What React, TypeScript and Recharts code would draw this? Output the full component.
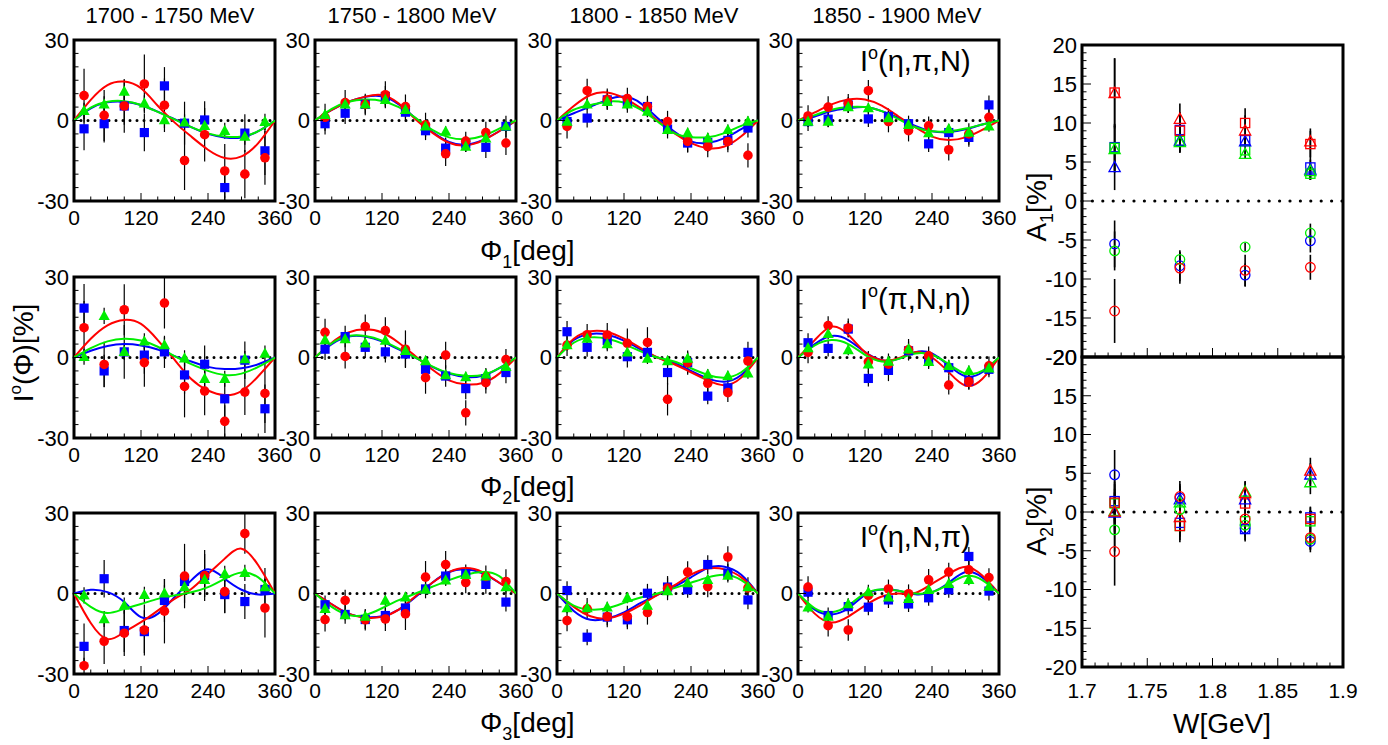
import React from 'react';
import { ComposedChart, Scatter, Line, XAxis, YAxis, ReferenceLine, ReferenceArea, ErrorBar } from 'recharts';

const FONT = '"Liberation Sans", Arial, Helvetica, sans-serif';
const RED = '#ff0000';
const BLUE = '#0000ff';
const GREEN = '#00ee00';

// ---------- shared axis values ----------
const phiBins = [18, 54, 90, 126, 162, 198, 234, 270, 306, 342];
const fitPhi = [0, 30, 60, 90, 120, 150, 180, 210, 240, 270, 300, 330, 360];
const phiTicks = [0, 30, 60, 90, 120, 150, 180, 210, 240, 270, 300, 330, 360];
const phiTickLabels = [0, 120, 240, 360];
const intTicks = [-30, -25, -20, -15, -10, -5, 0, 5, 10, 15, 20, 25, 30];
const intTickLabels = [-30, 0, 30];
const energyTitles = ['1700 - 1750 MeV', '1750 - 1800 MeV', '1800 - 1850 MeV', '1850 - 1900 MeV'];
const wBins = [1.725, 1.775, 1.825, 1.875];
const wTicks = [1.7, 1.71, 1.72, 1.73, 1.74, 1.75, 1.76, 1.77, 1.78, 1.79, 1.8, 1.81, 1.82, 1.83, 1.84, 1.85, 1.86, 1.87, 1.88, 1.89, 1.9];
const wTickLabels = [1.7, 1.75, 1.8, 1.85, 1.9];
const aTickLabels = [-20, -15, -10, -5, 0, 5, 10, 15, 20];
const aTicks = Array.from({ length: 41 }, (_, i) => i - 20);

// ---------- row 1 : Phi1, I(eta,pi,N) ----------
const p1Blue = [-3.1, -1.2, 5.4, -4.5, 12.9, -1.0, 0.2, -25.0, -4.7, -11.3];
const p1BlueErr = [8, 7, 7, 7, 7, 8, 7, 5, 7, 9];
const p1Red = [9.3, 1.9, 5.4, 13.6, 5.7, -14.9, -5.3, -18.8, -20.0, -13.9];
const p1RedErr = [10, 9.5, 10, 11, 10, 11, 10, 10, 9, 10];
const p1Green = [3.6, 6.0, 10.8, 6.4, 0.2, -0.7, -2.0, -3.8, -6.0, -0.5];
const p1GreenErr = [3, 3, 4.5, 3, 3, 3, 3, 3, 3, 3];
const p1RedFit = [0, 7.7, 13.2, 14.5, 12, 5.5, -0.7, -6, -10.9, -14, -13.4, -8.4, 0];
const p1BlueFit = [0, 4.5, 6.8, 7, 5.8, 3.3, 0.5, -2.5, -5, -6.3, -6.3, -4, 0];
const p1GreenFit = [0, 4.8, 7, 7.2, 5.8, 3.2, 0.4, -2.5, -4.8, -6, -6, -4, 0];

const p2Blue = [-1.2, 2.7, 6.0, 8.9, 3.1, -3.8, -10.3, -8.7, -10.0, -2.2];
const p2BlueErr = [4, 4, 3.5, 4, 3.5, 3.5, 4, 3, 4, 4];
const p2Red = [1.2, 6.7, 6.0, 9.6, 5.2, -1.6, -12.4, -7.7, -4.5, -8.4];
const p2RedErr = [5, 4.7, 4, 5, 4.5, 4.5, 4.6, 3.5, 4, 4.5];
const p2Green = [2.1, 6.0, 6.0, 7.7, 4.0, -2.2, -4.1, -9.7, -6.6, -2.2];
const p2GreenErr = [2, 2, 2, 2, 2, 2, 2, 2, 2, 2];
const p2RedFit = [0, 4, 7, 8.9, 9.5, 6.3, 0.5, -4.5, -8.3, -9.3, -7.5, -4, 0];
const p2BlueFit = [0, 4, 7, 8.8, 9, 6, 0.8, -4.2, -8, -9, -7.3, -4, 0];
const p2GreenFit = [0, 4.3, 7, 7.8, 7.3, 5, 1, -3.5, -6.3, -7, -5.8, -3, 0];

const p3Blue = [-0.4, 0.9, 7.7, 6.4, 5.2, -3.2, -8.4, -8.2, -7.4, -2.8];
const p3BlueErr = [3.5, 3.5, 3.5, 3.5, 3.5, 3.5, 3.5, 3.5, 3.5, 3.5];
const p3Red = [-2.2, 11.1, 7.9, 8.2, 5.2, -0.4, -7.8, -9.7, -7.8, -13.0];
const p3RedErr = [4.5, 4.5, 4, 4, 4, 4, 4, 4, 4, 4.5];
const p3Green = [-0.4, 6.0, 7.0, 6.0, 3.3, -3.5, -4.7, -6.6, -3.5, -0.4];
const p3GreenErr = [2, 2, 2, 2, 2, 2, 2, 2, 2, 2];
const p3RedFit = [0, 5.4, 9.5, 10.4, 8.3, 4.6, 0, -4.7, -8.4, -10.3, -9.7, -5.9, 0];
const p3BlueFit = [0, 2.7, 5.2, 7.7, 8.9, 6.4, 0.9, -4.1, -7.8, -8.4, -6.6, -3.2, 0];
const p3GreenFit = [0, 4, 5.8, 7, 6.7, 4, -0.4, -4.7, -6.2, -6.2, -4.7, -2, 0];

const p4Blue = [-0.4, 0.5, 5.8, 0.6, 1.5, -1.2, -8.7, -4.5, -6.3, 5.8];
const p4BlueErr = [3.5, 3, 3, 3, 3, 3, 3, 3, 3.5, 3.5];
const p4Red = [1.7, 5.0, 6.4, 11.1, -0.4, -3.8, -2.0, -10.9, -5.0, 1.2];
const p4RedErr = [4, 4, 3.5, 4, 4, 4, 3.5, 4, 4, 3.5];
const p4Green = [-0.4, -0.4, 5.0, 4.6, 0.9, -1.6, -4.7, -3.2, -4.5, -2.2];
const p4GreenErr = [2, 2, 2, 2, 2, 2, 2, 2, 2, 2];
const p4RedFit = [0, 3, 6, 7.8, 7.8, 5.5, 1.5, -2.5, -6, -7.3, -6.3, -3.5, 0];
const p4BlueFit = [0, 1.5, 3.5, 4.5, 5, 3.5, 1, -2, -4, -4.3, -3.3, -1.5, 0];
const p4GreenFit = [0, 2, 4, 5, 5, 3.5, 0.5, -2.5, -4, -4, -3, -1.5, 0];

// ---------- row 2 : Phi2, I(pi,N,eta) ----------
const p5Blue = [18.4, -5.0, 2.1, 0.9, 2.1, -6.5, -2.5, -15.4, -1.0, -19.1];
const p5BlueErr = [9, 6, 10, 7, 6, 7, 7, 7, 7, 9];
const p5Red = [11.1, -2.6, 17.8, -1.9, 20.3, -10.8, -12.5, -23.8, -12.9, -13.4];
const p5RedErr = [10, 8.5, 9.5, 9, 9.5, 11.5, 9, 6, 8.5, 11];
const p5Green = [0.3, 15.5, 2.1, 6.0, 4.6, -0.3, -7.9, -7.9, -0.6, 1.5];
const p5GreenErr = [3, 3, 3, 3, 3, 3, 3, 3, 3, 3];
const p5RedFit = [0, 7, 12, 14, 12.5, 6.5, -0.8, -8, -12.3, -14, -12.5, -7, 0];
const p5BlueFit = [0, 2.5, 4.3, 5, 4.5, 3, 0.5, -1.5, -3.5, -4.3, -4, -2.5, 0];
const p5GreenFit = [0, 3.5, 6, 7, 6.3, 4, 0.5, -2.5, -5, -6.5, -6, -3.5, 0];

const p6Blue = [3.1, 7.8, 3.8, 2.1, 1.3, -4.4, -6.9, -11.6, -7.9, -5.6];
const p6BlueErr = [4, 4, 4, 4, 5, 4, 4, 4, 4, 4];
const p6Red = [9.4, 0.4, 11.5, 10.0, 3.1, -7.5, 0.9, -20.6, -9.4, -0.8];
const p6RedErr = [5, 4.5, 4.5, 5, 7, 6, 5, 4.7, 4, 4];
const p6Green = [6.5, 6.9, 5.3, 6.3, 2.5, -1.3, -6.5, -7.3, -6.3, -3.5];
const p6GreenErr = [2, 2, 2, 2, 2, 2, 2, 2, 2, 2];
const p6RedFit = [0, 5.5, 9.3, 10.5, 9.3, 5.5, 0.5, -4.5, -8.5, -10, -9.5, -6, 0];
const p6BlueFit = [0, 5, 7.8, 7.8, 6, 3, 0, -3.5, -6, -7.3, -6.8, -4, 0];
const p6GreenFit = [0, 5.3, 8, 8, 6.3, 3.3, 0, -3.3, -5.8, -6.8, -6.5, -4, 0];

const p7Blue = [9.6, 3.8, 6.3, 0.3, 1.9, -5.6, -1.9, -14.4, -11.3, 1.9];
const p7BlueErr = [4, 3.5, 4, 4, 4, 4.5, 4, 3, 3, 4];
const p7Red = [4.6, 8.5, 8.4, 5.3, 5.6, -15.6, -1.9, -9.6, -13.1, -1.3];
const p7RedErr = [4, 4, 4.5, 5.5, 5.7, 6, 4.5, 4, 3.5, 4];
const p7Green = [4.6, 7.1, 5.0, 1.9, -0.4, -1.3, -0.4, -6.3, -6.9, -5.9];
const p7GreenErr = [2, 2, 2, 2, 2, 2, 2, 2, 2, 2];
const p7RedFit = [0, 7, 9.8, 9.5, 7, 3.5, 0, -2.5, -5.5, -8.5, -10.3, -7.5, 0];
const p7BlueFit = [0, 6.5, 8.8, 8.5, 6.3, 3, 0, -2, -5, -7.8, -9, -6.5, 0];
const p7GreenFit = [0, 5.5, 7.5, 7, 5, 2.3, 0, -1.5, -4, -6.5, -7.5, -5.5, 0];

const p8Blue = [5.5, 3.4, 10.6, -7.8, -4.8, 2.5, -1.3, -3.8, -8.8, -4.4];
const p8BlueErr = [3.5, 3, 3, 3, 4, 3.5, 3, 3, 3, 3];
const p8Red = [1.9, 11.9, 11.0, -1.6, -2.5, 2.9, 0.6, -10.3, -9.0, -3.1];
const p8RedErr = [4, 3.5, 3.5, 4, 4, 4, 3.5, 3.5, 3, 3.5];
const p8Green = [3.5, 8.8, 2.8, -2.5, -1.5, 3.1, -1.6, -3.1, -5.0, -4.0];
const p8GreenErr = [2, 2, 2, 2, 2, 2, 2, 2, 2, 2];
const p8RedFit = [0, 6.5, 11.5, 8.5, 2, -1, -0.3, 2, 0, -5.5, -10.5, -8, 0];
const p8BlueFit = [0, 5, 8, 6.5, 2, -1, -0.5, 2, 1.5, -3, -7, -5.5, 0];
const p8GreenFit = [0, 4.5, 6.5, 5, 1, -1.5, -0.5, 1.5, 1, -2.5, -6, -5, 0];

// ---------- row 3 : Phi3, I(eta,N,pi) ----------
const p9Blue = [-19.7, 5.5, -13.8, -14.2, -2.6, 4.5, 6.7, -0.4, -3.0, 1.5];
const p9BlueErr = [8.5, 7, 8, 8, 8, 8, 8, 7, 6.5, 8];
const p9Red = [-26.9, -17.8, -14.8, -13.6, -6.6, 6.5, 6.7, 0.7, 22.3, -5.4];
const p9RedErr = [3, 8.5, 8.5, 9.5, 12, 12, 9.5, 8, 7.5, 11];
const p9Green = [-0.7, -9.5, -4.5, -0.5, 0.1, 2.4, 5.1, 7.3, 7.7, 2.4];
const p9GreenErr = [3, 3, 3, 3, 3, 3, 3, 3, 3, 3];
const p9RedFit = [0, -11, -17, -14.4, -10.7, -6.4, -2, 1.7, 7.3, 13, 16.7, 10.5, 0];
const p9BlueFit = [0, 1.4, 0.5, -3.2, -8.8, -7.6, -1.4, 4.9, 9, 5.5, 1.4, -0.4, 0];
const p9GreenFit = [0, -5, -7.3, -5.7, -3.9, -2, -0.7, 0.5, 2.4, 5.5, 7.8, 6, 0];

const p10Blue = [-4.2, -7.8, -9.7, -8.2, -5.4, 1.7, 6.5, 7.3, 3.4, -3.2];
const p10BlueErr = [3.5, 3.5, 3.5, 3.5, 3.5, 3.5, 3.5, 3.5, 3.5, 3.5];
const p10Red = [-9.7, -2.6, -9.8, -9.5, -7.6, 6.1, 10.8, 4.1, 6.4, 4.5];
const p10RedErr = [4.5, 4, 4, 4.5, 6, 6, 5, 4, 4, 4.5];
const p10Green = [-5.7, -8.0, -8.6, -2.6, -1.4, 1.5, 4.9, 7.0, 6.4, 2.4];
const p10GreenErr = [2, 2, 2, 2, 2, 2, 2, 2, 2, 2];
const p10RedFit = [0, -4, -7.5, -9, -8.7, -6, -1, 4, 8, 9.5, 8, 4, 0];
const p10BlueFit = [0, -4, -7.5, -8.8, -8.5, -6, -1.3, 4, 8, 9, 7.5, 4, 0];
const p10GreenFit = [0, -5, -8, -8, -5.5, -2.5, 0, 2.5, 5, 7, 8, 6.5, 0];

const p11Blue = [1.1, -16.3, -8.8, -9.8, 0.1, 2.4, 1.4, 10.8, 7.6, -2.4];
const p11BlueErr = [3.5, 3, 3, 3.5, 3.5, 3.5, 3, 3.5, 3.5, 3.5];
const p11Red = [-10.1, -5.7, -8.6, -8.6, -7.1, 2.0, 8.0, 2.6, 13.6, 2.1];
const p11RedErr = [4, 4, 4, 4, 4.5, 4.5, 4, 4, 4, 4];
const p11Green = [-5.4, -5.4, -5.1, -1.6, -4.5, 0.9, 3.9, 5.1, 6.7, 2.4];
const p11GreenErr = [2, 2, 2, 2, 2, 2, 2, 2, 2, 2];
const p11RedFit = [0, -5, -8.5, -9.3, -7.5, -4.3, -0.5, 3, 7, 9.3, 9, 6, 0];
const p11BlueFit = [0, -6.5, -9.8, -9.3, -7, -3.5, -0.5, 2.5, 6, 9.5, 10, 7, 0];
const p11GreenFit = [0, -4.5, -6, -5.5, -3.5, -1.5, 0, 2, 4, 6, 7, 5, 0];

const p12Blue = [0.5, -8.2, -4.9, -5.1, -2.4, -3.9, -1.6, 1.4, 13.8, 0.9];
const p12BlueErr = [3.5, 3, 3, 3, 3, 3, 3, 3, 3.5, 3.5];
const p12Red = [2.4, -12.0, -13.6, -0.7, 1.7, -0.1, 5.1, 8.0, 8.8, 5.9];
const p12RedErr = [4, 4, 4, 4, 3.5, 3.5, 4, 3.5, 3.5, 3.5];
const p12Green = [-5.1, -8.6, -3.9, 0.5, -1.4, -2.0, 1.4, 3.6, 5.1, 2.6];
const p12GreenErr = [2, 2, 2, 2, 2, 2, 2, 2, 2, 2];
const p12RedFit = [0, -7.5, -10.8, -8.6, -4.5, -1.1, 0, 0.2, 3.6, 7.3, 10, 6.7, 0];
const p12BlueFit = [0, -6, -7.8, -5.5, -0.5, 1.5, 1, -0.3, 0.5, 4, 8, 6, 0];
const p12GreenFit = [0, -5.5, -7, -4.5, 0, 1.5, 1, 0, 0.5, 3.5, 6.5, 5, 0];

// ---------- right panels : A1, A2 vs W ----------
const a1RedSq = [13.9, 9.0, 10.0, 7.3];
const a1RedSqErr = [4.4, 2.0, 1.9, 1.7];
const a1BlueSq = [6.9, 9.1, 7.8, 4.3];
const a1BlueSqErr = [3.0, 2.3, 0.8, 1.6];
const a1GreenSq = [6.8, 7.7, 6.5, 3.5];
const a1GreenSqErr = [3.0, 1.5, 0.5, 0.8];
const a1RedTri = [13.8, 10.5, 9.0, 7.6];
const a1RedTriErr = [4.5, 2.0, 2.0, 1.7];
const a1BlueTri = [4.3, 7.7, 7.6, 4.0];
const a1BlueTriErr = [2.9, 1.5, 0.6, 1.3];
const a1GreenTri = [6.6, 7.5, 6.0, 3.8];
const a1GreenTriErr = [3.0, 1.2, 0.5, 1.0];
const a1RedCirc = [-14.1, -8.6, -8.9, -8.5];
const a1RedCircErr = [4.1, 2.0, 2.0, 1.6];
const a1BlueCirc = [-5.5, -8.3, -9.5, -5.1];
const a1BlueCircErr = [3.0, 2.0, 1.5, 1.5];
const a1GreenCirc = [-6.4, -7.5, -5.9, -4.1];
const a1GreenCircErr = [2.5, 1.0, 0.5, 1.2];

const a2RedSq = [1.2, -1.8, 1.1, -0.9];
const a2RedSqErr = [3.0, 2.1, 1.5, 1.5];
const a2BlueSq = [1.4, -1.4, -2.2, -0.7];
const a2BlueSqErr = [2.5, 1.8, 1.6, 1.4];
const a2GreenSq = [1.1, -1.8, -1.2, -1.2];
const a2GreenSqErr = [2.5, 1.8, 1.5, 1.4];
const a2RedTri = [0.0, -0.7, 2.4, 5.3];
const a2RedTriErr = [3.0, 2.0, 1.5, 1.7];
const a2BlueTri = [-0.1, 1.6, 1.6, 4.8];
const a2BlueTriErr = [2.5, 1.8, 1.4, 1.5];
const a2GreenTri = [0.1, 1.2, 2.6, 3.8];
const a2GreenTriErr = [2.5, 1.8, 1.4, 1.5];
const a2RedCirc = [-5.1, 2.0, -0.9, -3.3];
const a2RedCircErr = [4.4, 2.0, 1.5, 1.5];
const a2BlueCirc = [4.8, 1.8, -2.1, -3.8];
const a2BlueCircErr = [3.2, 1.8, 1.5, 1.4];
const a2GreenCirc = [-2.3, 0.3, -1.7, -3.5];
const a2GreenCircErr = [2.8, 1.5, 1.5, 1.4];

// ---------- helpers ----------
const pts = (xs: number[], ys: number[], es: number[]) => xs.map((x, i) => ({ x, y: ys[i], e: es[i] }));
const fit = (ys: number[]) => fitPhi.map((x, i) => ({ x, y: ys[i] }));
const near = (list: number[], v: number) => list.some((m) => Math.abs(m - v) < 1e-6);

const makeXTick = (majors: number[], showLabels: boolean, dy: number, fmt: (v: number) => string, majLen: number, minLen: number, fs: number) =>
  (props: any) => {
    const { x, y, payload } = props;
    const v = payload.value;
    const isMajor = near(majors, v);
    return (
      <g>
        <line x1={x} x2={x} y1={y} y2={y - (isMajor ? majLen : minLen)} stroke="#000" strokeWidth={1} />
        {isMajor && showLabels && (
          <text x={x} y={y + dy} textAnchor="middle" fontSize={fs} fontFamily={FONT} fill="#000">{fmt(v)}</text>
        )}
      </g>
    );
  };

const makeYTick = (majors: number[], majLen: number, minLen: number, fs: number) =>
  (props: any) => {
    const { x, y, payload } = props;
    const v = payload.value;
    const isMajor = near(majors, v);
    return (
      <g>
        <line x1={x} x2={x + (isMajor ? majLen : minLen)} y1={y} y2={y} stroke="#000" strokeWidth={1} />
        {isMajor && (
          <text x={x - 5} y={y} dy="0.36em" textAnchor="end" fontSize={fs} fontFamily={FONT} fill="#000">{v}</text>
        )}
      </g>
    );
  };

const phiXTick = makeXTick(phiTickLabels, true, 24, (v) => String(v), 8, 4.5, 21);
const intYTick = makeYTick(intTickLabels, 8, 4.5, 22);
const wXTickLabeled = makeXTick(wTickLabels, true, 31, (v) => String(Math.round(v * 100) / 100), 9, 4.5, 21);
const wXTickPlain = makeXTick(wTickLabels, false, 31, (v) => String(v), 9, 4.5, 21);
const aYTick = makeYTick(aTickLabels, 9, 4.5, 22);

// filled markers
const blueSquare = (p: any) => <rect x={p.cx - 4.6} y={p.cy - 4.6} width={9.2} height={9.2} fill={BLUE} />;
const redCircle = (p: any) => <circle cx={p.cx} cy={p.cy} r={4.8} fill={RED} />;
const greenTriangle = (p: any) => (
  <polygon points={`${p.cx},${p.cy - 6} ${p.cx - 5.6},${p.cy + 4.2} ${p.cx + 5.6},${p.cy + 4.2}`} fill={GREEN} />
);
// open markers
const openSquare = (c: string) => (p: any) => (
  <rect x={p.cx - 4.6} y={p.cy - 4.6} width={9.2} height={9.2} fill="none" stroke={c} strokeWidth={1.3} />
);
const openCircle = (c: string) => (p: any) => <circle cx={p.cx} cy={p.cy} r={4.8} fill="none" stroke={c} strokeWidth={1.3} />;
const openTriangle = (c: string) => (p: any) => (
  <polygon points={`${p.cx},${p.cy - 6} ${p.cx - 5.6},${p.cy + 4.2} ${p.cx + 5.6},${p.cy + 4.2}`} fill="none" stroke={c} strokeWidth={1.3} />
);

// ---------- layout ----------
const colLeft = [74, 315, 557, 798];
const rowTop = [40, 277, 513];
const PW = 201;
const PH = 161;
const ML = 52;
const MR = 26;
const MT = 12;
const MB = 34;

type PanelDef = {
  blue: number[]; blueErr: number[]; red: number[]; redErr: number[]; green: number[]; greenErr: number[];
  redFit: number[]; blueFit: number[]; greenFit: number[];
};

const panels: PanelDef[] = [
  { blue: p1Blue, blueErr: p1BlueErr, red: p1Red, redErr: p1RedErr, green: p1Green, greenErr: p1GreenErr, redFit: p1RedFit, blueFit: p1BlueFit, greenFit: p1GreenFit },
  { blue: p2Blue, blueErr: p2BlueErr, red: p2Red, redErr: p2RedErr, green: p2Green, greenErr: p2GreenErr, redFit: p2RedFit, blueFit: p2BlueFit, greenFit: p2GreenFit },
  { blue: p3Blue, blueErr: p3BlueErr, red: p3Red, redErr: p3RedErr, green: p3Green, greenErr: p3GreenErr, redFit: p3RedFit, blueFit: p3BlueFit, greenFit: p3GreenFit },
  { blue: p4Blue, blueErr: p4BlueErr, red: p4Red, redErr: p4RedErr, green: p4Green, greenErr: p4GreenErr, redFit: p4RedFit, blueFit: p4BlueFit, greenFit: p4GreenFit },
  { blue: p5Blue, blueErr: p5BlueErr, red: p5Red, redErr: p5RedErr, green: p5Green, greenErr: p5GreenErr, redFit: p5RedFit, blueFit: p5BlueFit, greenFit: p5GreenFit },
  { blue: p6Blue, blueErr: p6BlueErr, red: p6Red, redErr: p6RedErr, green: p6Green, greenErr: p6GreenErr, redFit: p6RedFit, blueFit: p6BlueFit, greenFit: p6GreenFit },
  { blue: p7Blue, blueErr: p7BlueErr, red: p7Red, redErr: p7RedErr, green: p7Green, greenErr: p7GreenErr, redFit: p7RedFit, blueFit: p7BlueFit, greenFit: p7GreenFit },
  { blue: p8Blue, blueErr: p8BlueErr, red: p8Red, redErr: p8RedErr, green: p8Green, greenErr: p8GreenErr, redFit: p8RedFit, blueFit: p8BlueFit, greenFit: p8GreenFit },
  { blue: p9Blue, blueErr: p9BlueErr, red: p9Red, redErr: p9RedErr, green: p9Green, greenErr: p9GreenErr, redFit: p9RedFit, blueFit: p9BlueFit, greenFit: p9GreenFit },
  { blue: p10Blue, blueErr: p10BlueErr, red: p10Red, redErr: p10RedErr, green: p10Green, greenErr: p10GreenErr, redFit: p10RedFit, blueFit: p10BlueFit, greenFit: p10GreenFit },
  { blue: p11Blue, blueErr: p11BlueErr, red: p11Red, redErr: p11RedErr, green: p11Green, greenErr: p11GreenErr, redFit: p11RedFit, blueFit: p11BlueFit, greenFit: p11GreenFit },
  { blue: p12Blue, blueErr: p12BlueErr, red: p12Red, redErr: p12RedErr, green: p12Green, greenErr: p12GreenErr, redFit: p12RedFit, blueFit: p12BlueFit, greenFit: p12GreenFit },
];

const errBar = (sw: number) => (
  <ErrorBar dataKey="e" direction="y" width={0} stroke="#000" strokeWidth={sw} isAnimationActive={false} />
);

function SmallPanel({ def, left, top }: { def: PanelDef; left: number; top: number }) {
  return (
    <div style={{ position: 'absolute', left: left - ML, top: top - MT }}>
      <ComposedChart width={PW + ML + MR} height={PH + MT + MB} margin={{ top: MT, right: MR, bottom: MB - 1, left: ML - 1 }}>
        <XAxis type="number" dataKey="x" domain={[0, 360]} ticks={phiTicks} interval={0} tickSize={0} tickMargin={0}
          axisLine={false} tickLine={false} height={1} tick={phiXTick} allowDataOverflow />
        <YAxis type="number" dataKey="y" domain={[-30, 30]} ticks={intTicks} interval={0} tickSize={0} tickMargin={0}
          axisLine={false} tickLine={false} width={1} tick={intYTick} allowDataOverflow />
        <ReferenceLine y={0} stroke="#000" strokeWidth={3} strokeDasharray="0 7" strokeLinecap="round" />
        <Scatter data={pts(phiBins, def.blue, def.blueErr)} shape={blueSquare} isAnimationActive={false}>{errBar(1.2)}</Scatter>
        <Scatter data={pts(phiBins, def.red, def.redErr)} shape={redCircle} isAnimationActive={false}>{errBar(1.2)}</Scatter>
        <Scatter data={pts(phiBins, def.green, def.greenErr)} shape={greenTriangle} isAnimationActive={false}>{errBar(1.2)}</Scatter>
        <Line data={fit(def.blueFit)} dataKey="y" type="natural" stroke={BLUE} strokeWidth={2} dot={false} isAnimationActive={false} />
        <Line data={fit(def.redFit)} dataKey="y" type="natural" stroke={RED} strokeWidth={2} dot={false} isAnimationActive={false} />
        <Line data={fit(def.greenFit)} dataKey="y" type="natural" stroke={GREEN} strokeWidth={2} dot={false} isAnimationActive={false} />
        <ReferenceArea x1={0} x2={360} y1={-30} y2={30} fill="none" fillOpacity={0} stroke="#000" strokeWidth={3} />
      </ComposedChart>
    </div>
  );
}

type ASeries = { kind: 'sq' | 'tri' | 'circ'; color: string; vals: number[]; errs: number[] };

const a1Series: ASeries[] = [
  { kind: 'sq', color: BLUE, vals: a1BlueSq, errs: a1BlueSqErr },
  { kind: 'sq', color: GREEN, vals: a1GreenSq, errs: a1GreenSqErr },
  { kind: 'sq', color: RED, vals: a1RedSq, errs: a1RedSqErr },
  { kind: 'tri', color: BLUE, vals: a1BlueTri, errs: a1BlueTriErr },
  { kind: 'tri', color: GREEN, vals: a1GreenTri, errs: a1GreenTriErr },
  { kind: 'tri', color: RED, vals: a1RedTri, errs: a1RedTriErr },
  { kind: 'circ', color: BLUE, vals: a1BlueCirc, errs: a1BlueCircErr },
  { kind: 'circ', color: GREEN, vals: a1GreenCirc, errs: a1GreenCircErr },
  { kind: 'circ', color: RED, vals: a1RedCirc, errs: a1RedCircErr },
];
const a2Series: ASeries[] = [
  { kind: 'sq', color: BLUE, vals: a2BlueSq, errs: a2BlueSqErr },
  { kind: 'sq', color: GREEN, vals: a2GreenSq, errs: a2GreenSqErr },
  { kind: 'sq', color: RED, vals: a2RedSq, errs: a2RedSqErr },
  { kind: 'tri', color: BLUE, vals: a2BlueTri, errs: a2BlueTriErr },
  { kind: 'tri', color: GREEN, vals: a2GreenTri, errs: a2GreenTriErr },
  { kind: 'tri', color: RED, vals: a2RedTri, errs: a2RedTriErr },
  { kind: 'circ', color: BLUE, vals: a2BlueCirc, errs: a2BlueCircErr },
  { kind: 'circ', color: GREEN, vals: a2GreenCirc, errs: a2GreenCircErr },
  { kind: 'circ', color: RED, vals: a2RedCirc, errs: a2RedCircErr },
];

const AL = 1082;
const AW = 261;
const AML = 60;
const AMR = 20;

function APanel({ series, top, height, labeled }: { series: ASeries[]; top: number; height: number; labeled: boolean }) {
  const MTa = 14;
  const MBa = 40;
  return (
    <div style={{ position: 'absolute', left: AL - AML, top: top - MTa }}>
      <ComposedChart width={AW + AML + AMR} height={height + MTa + MBa} margin={{ top: MTa, right: AMR, bottom: MBa - 1, left: AML - 1 }}>
        <XAxis type="number" dataKey="x" domain={[1.7, 1.9]} ticks={wTicks} interval={0} tickSize={0} tickMargin={0}
          axisLine={false} tickLine={false} height={1} tick={labeled ? wXTickLabeled : wXTickPlain} allowDataOverflow />
        <YAxis type="number" dataKey="y" domain={[-20, 20]} ticks={aTicks} interval={0} tickSize={0} tickMargin={0}
          axisLine={false} tickLine={false} width={1} tick={aYTick} allowDataOverflow />
        <ReferenceLine y={0} stroke="#000" strokeWidth={3.2} strokeDasharray="0 10.4" strokeLinecap="round" />
        {series.map((s, i) => (
          <Scatter key={i} data={pts(wBins, s.vals, s.errs)} isAnimationActive={false}
            shape={s.kind === 'sq' ? openSquare(s.color) : s.kind === 'tri' ? openTriangle(s.color) : openCircle(s.color)}>
            {errBar(1.6)}
          </Scatter>
        ))}
        <ReferenceArea x1={1.7} x2={1.9} y1={-20} y2={20} fill="none" fillOpacity={0} stroke="#000" strokeWidth={3} />
      </ComposedChart>
    </div>
  );
}

const rowLabels = ['(η,π,N)', '(π,N,η)', '(η,N,π)'];
const rowLabelBase = [71, 309, 547];
const phiLabelBase = [260, 496, 732];
const phiSub = ['1', '2', '3'];
const titleCenters = [170, 412, 654, 897];

export default function App() {
  return (
    <div style={{ position: 'absolute', left: 0, top: 0, width: 1388, height: 745, background: '#fff', overflow: 'hidden' }}>
      {panels.map((def, i) => (
        <SmallPanel key={i} def={def} left={colLeft[i % 4]} top={rowTop[Math.floor(i / 4)]} />
      ))}
      <APanel series={a1Series} top={45} height={312} labeled={false} />
      <APanel series={a2Series} top={357} height={310} labeled={true} />
      <svg width={1388} height={745} style={{ position: 'absolute', left: 0, top: 0, pointerEvents: 'none' }}>
        <g fontFamily={FONT} fill="#000">
          {energyTitles.map((t, i) => (
            <text key={t} x={titleCenters[i]} y={23} textAnchor="middle" fontSize={22}>{t}</text>
          ))}
          {phiLabelBase.map((b, i) => (
            <text key={'phi' + i} x={480} y={b} fontSize={28}>
              Φ<tspan fontSize={18} dy={8}>{phiSub[i]}</tspan><tspan dy={-8}>[deg]</tspan>
            </text>
          ))}
          {rowLabels.map((t, i) => (
            <text key={'rl' + i} x={860} y={rowLabelBase[i]} fontSize={29}>
              I<tspan fontSize={18} dy={-12}>o</tspan><tspan dy={12}>{t}</tspan>
            </text>
          ))}
          <text transform="translate(33,353) rotate(-90)" textAnchor="middle" fontSize={28}>
            I<tspan fontSize={17} dy={-12}>o</tspan><tspan dy={12}>(Φ)[%]</tspan>
          </text>
          <text transform="translate(1046,207) rotate(-90)" textAnchor="middle" fontSize={28}>
            A<tspan fontSize={18} dy={7}>1</tspan><tspan dy={-7}>[%]</tspan>
          </text>
          <text transform="translate(1046,521) rotate(-90)" textAnchor="middle" fontSize={28}>
            A<tspan fontSize={18} dy={7}>2</tspan><tspan dy={-7}>[%]</tspan>
          </text>
          <text x={1222} y={733} textAnchor="middle" fontSize={28}>W[GeV]</text>
        </g>
      </svg>
    </div>
  );
}
